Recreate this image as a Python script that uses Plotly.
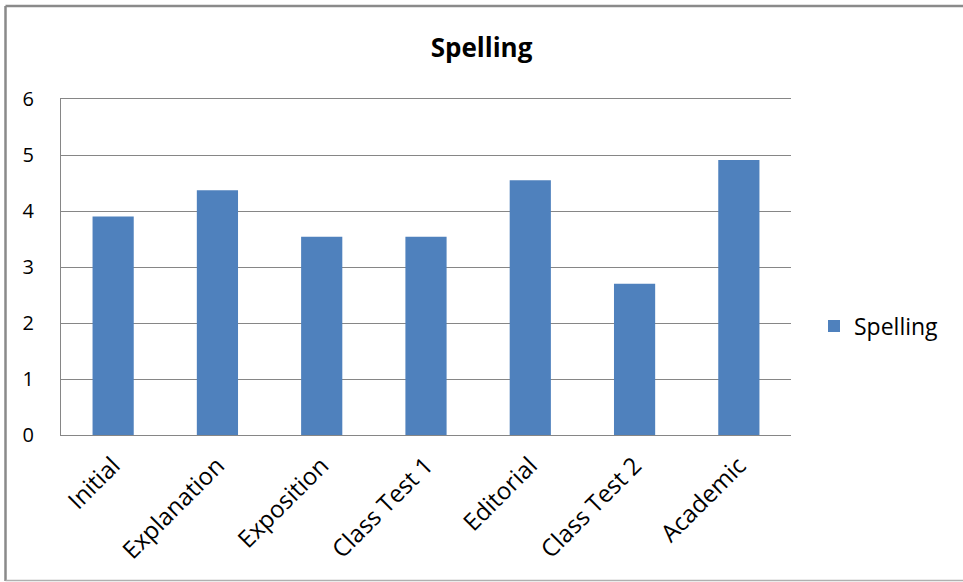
import plotly.graph_objects as go

categories = ["Initial", "Explanation", "Exposition", "Class Test 1", "Editorial", "Class Test 2", "Academic"]
spelling = [3.9, 4.37, 3.54, 3.54, 4.55, 2.7, 4.91]
y_ticks = [0, 1, 2, 3, 4, 5, 6]

FONT = "Open Sans, Calibri, Carlito, sans-serif"
W, H = 963, 582
L, R, T, B = 61, 791, 99, 435

fig = go.Figure()
fig.add_trace(go.Bar(
    x=categories, y=spelling, name="Spelling",
    marker=dict(color="#4F81BD", line=dict(width=0)),
))

pw, ph = R - L, B - T
def px_x(x): return (x - L) / pw
def px_y(y): return (B - y) / ph

border = "#8A8A8A"
shapes = [
    dict(type="line", xref="paper", yref="paper", x0=px_x(5.5), x1=px_x(970),
         y0=px_y(6), y1=px_y(6), line=dict(color=border, width=2.5), layer="below"),
    dict(type="line", xref="paper", yref="paper", x0=px_x(5.5), x1=px_x(5.5),
         y0=px_y(6), y1=px_y(581), line=dict(color=border, width=2.5), layer="below"),
    dict(type="line", xref="paper", yref="paper", x0=px_x(5.5), x1=px_x(970),
         y0=px_y(580.5), y1=px_y(580.5), line=dict(color="#B0B0B0", width=1.5), layer="below"),
]

fig.update_layout(
    width=W, height=H,
    margin=dict(l=L, r=W - R, t=T, b=H - B, autoexpand=False),
    paper_bgcolor="white", plot_bgcolor="white",
    font=dict(family=FONT, size=20, color="#000000"),
    title=dict(text="<b>Spelling</b>", x=0.5, xanchor="center", xref="container",
               y=1 - 48 / H, yanchor="middle", yref="container",
               font=dict(family=FONT, size=26, color="#000000")),
    bargap=0.605,
    showlegend=True,
    legend=dict(x=px_x(814), y=px_y(326), xanchor="left", yanchor="middle",
                font=dict(family=FONT, size=23), bgcolor="rgba(0,0,0,0)",
                itemwidth=30),
    xaxis=dict(showgrid=False, showline=True, mirror=True, linecolor="#868686", linewidth=1,
               ticks="", tickangle=-45, tickfont=dict(family=FONT, size=24),
               ticklabelstandoff=6, fixedrange=True),
    yaxis=dict(range=[0, 6], tickvals=y_ticks, showgrid=True, gridcolor="#868686",
               gridwidth=1, showline=True, linecolor="#868686", linewidth=1,
               ticks="", zeroline=False, tickfont=dict(family=FONT, size=20),
               ticklabelstandoff=22, fixedrange=True),
    shapes=shapes,
)

fig.write_html("out.html")
